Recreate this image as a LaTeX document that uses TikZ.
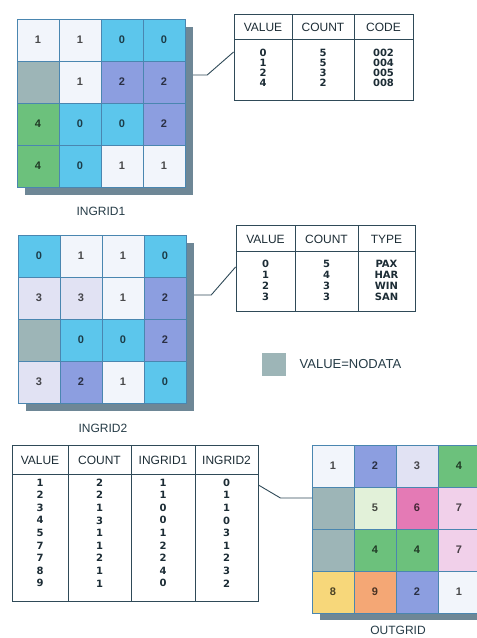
\documentclass[tikz,border=0pt]{standalone}
\usepackage{fontspec}
\setmainfont{Liberation Sans}
\newfontfamily\digitfont{DejaVu Sans}

\definecolor{cellW}{HTML}{F2F5FB}
\definecolor{cellC}{HTML}{5CC6EC}
\definecolor{cellP}{HTML}{8C9EE0}
\definecolor{cellG}{HTML}{6CC17C}
\definecolor{cellN}{HTML}{9DB5B7}
\definecolor{cellL}{HTML}{E1E2F3}
\definecolor{cellE}{HTML}{E2F1D9}
\definecolor{cellK}{HTML}{E47AB5}
\definecolor{cellQ}{HTML}{F1D0EA}
\definecolor{cellY}{HTML}{F7D77A}
\definecolor{cellO}{HTML}{F4A775}
\definecolor{shadowgray}{HTML}{6E8796}
\definecolor{gridline}{HTML}{4A86B0}
\definecolor{rule}{HTML}{2F4A58}

\tikzset{
  cell/.style={draw=gridline, line width=0.6pt, minimum width=42pt,
    minimum height=42pt, inner sep=0pt,
    font=\bfseries\fontsize{11}{11}\selectfont},
  frame/.style={draw=gridline, minimum width=168pt, minimum height=168pt,
    inner sep=0pt},
  tab/.style={draw=rule, line width=0.9pt, inner sep=0pt},
  head/.style={text=rule!60!black, font=\fontsize{12}{12}\selectfont},
  body/.style={text=rule!60!black, align=center, inner sep=0pt},
  link/.style={draw=rule, line width=0.9pt},
  caption/.style={text=rule!80!black, font=\fontsize{12}{12}\selectfont}
}

\begin{document}
\begin{tikzpicture}[x=1pt, y=-1pt]
    \useasboundingbox (0,0) rectangle (477,638);

    % INGRID1
    \fill[shadowgray] (25,27) rectangle (193,195);
    \node[frame] (ingrid1) at (101,103) {};
    \foreach \v/\c [count=\i from 0] in
      {1/W,1/W,0/C,0/C, {}/N,1/W,2/P,2/P, 4/G,0/C,0/C,2/P, 4/G,0/C,1/W,1/W}
    {
      \pgfmathtruncatemacro\r{\i/4}
      \pgfmathtruncatemacro\k{mod(\i,4)}
      \node[cell, fill=cell\c, text=cell\c!30!black] (in1-\i)
        at ({38+42*\k},{40+42*\r}) {\v};
    }
    \node[caption] (ingrid1-label) at (101,211) {INGRID1};

    % table of INGRID1
    \node[tab, minimum width=179pt, minimum height=86pt] (codetab) at (323.5,57) {};
    \draw[rule, line width=0.9pt] (234,39) -- (413,39)
      (292,14) -- (292,100) (354,14) -- (354,100);
    \node[head] (codetab-h1) at (263,27) {VALUE};
    \node[head] (codetab-h2) at (323,27) {COUNT};
    \node[head] (codetab-h3) at (383.5,27) {CODE};
    \node[body, font=\digitfont\bfseries\fontsize{10}{10}\selectfont] (codetab-v) at (263,68) {0\\1\\2\\4};
    \node[body, font=\digitfont\bfseries\fontsize{10}{10}\selectfont] (codetab-c) at (323,68) {5\\5\\3\\2};
    \node[body, font=\digitfont\bfseries\fontsize{10}{10}\selectfont] (codetab-d) at (383.5,68) {002\\004\\005\\008};

    \draw[link] ([xshift=8pt,yshift=28pt]ingrid1.east) -- ++(14,0)
      -- ([yshift=5pt]codetab.west);

    % INGRID2
    \fill[shadowgray] (26,243) rectangle (194,411);
    \node[frame] (ingrid2) at (102,319) {};
    \foreach \v/\c [count=\i from 0] in
      {0/C,1/W,1/W,0/C, 3/L,3/L,1/W,2/P, {}/N,0/C,0/C,2/P, 3/L,2/P,1/W,0/C}
    {
      \pgfmathtruncatemacro\r{\i/4}
      \pgfmathtruncatemacro\k{mod(\i,4)}
      \node[cell, fill=cell\c, text=cell\c!30!black] (in2-\i)
        at ({39+42*\k},{256+42*\r}) {\v};
    }
    \node[caption] (ingrid2-label) at (103,428) {INGRID2};

    % table of INGRID2
    \node[tab, minimum width=179pt, minimum height=86pt] (typetab) at (325.5,268) {};
    \draw[rule, line width=0.9pt] (236,251) -- (415,251)
      (295,225) -- (295,311) (358,225) -- (358,311);
    \node[head] (typetab-h1) at (265.5,239) {VALUE};
    \node[head] (typetab-h2) at (326.5,239) {COUNT};
    \node[head] (typetab-h3) at (386.5,239) {TYPE};
    \node[body, font=\digitfont\bfseries\fontsize{10}{11}\selectfont] (typetab-v) at (265.5,280) {0\\1\\2\\3};
    \node[body, font=\digitfont\bfseries\fontsize{10}{11}\selectfont] (typetab-c) at (326.5,280) {5\\4\\3\\3};
    \node[body, font=\digitfont\bfseries\fontsize{10}{11}\selectfont] (typetab-t) at (386.5,280) {PAX\\HAR\\WIN\\SAN};

    \draw[link] ([xshift=8pt,yshift=24pt]ingrid2.east) -- ++(17,0)
      -- ([yshift=1pt]typetab.west);

    % legend
    \node[fill=cellN, minimum width=24pt, minimum height=23pt, inner sep=0pt]
      (nodata) at (274,364.5) {};
    \node[caption, anchor=west, font=\fontsize{13}{13}\selectfont]
      (nodata-label) at ([xshift=10pt]nodata.east) {VALUE=NODATA};

    % combined table
    \node[tab, minimum width=246pt, minimum height=156pt] (combtab) at (135,523) {};
    \draw[rule, line width=0.9pt] (12,474) -- (258,474)
      (68,445) -- (68,601) (131,445) -- (131,601) (195,445) -- (195,601);
    \node[head] (combtab-h1) at (40,460) {VALUE};
    \node[head] (combtab-h2) at (99.5,460) {COUNT};
    \node[head] (combtab-h3) at (163,460) {INGRID1};
    \node[head] (combtab-h4) at (226.5,460) {INGRID2};
    \node[body, font=\digitfont\bfseries\fontsize{10}{12.6}\selectfont] (combtab-v) at (40,533)
      {1\\2\\3\\4\\5\\7\\7\\8\\9};
    \node[body, font=\digitfont\bfseries\fontsize{10}{12.6}\selectfont] (combtab-c) at (99.5,533)
      {2\\2\\1\\3\\1\\1\\2\\1\\1};
    \node[body, font=\digitfont\bfseries\fontsize{10}{12.6}\selectfont] (combtab-a) at (163,533)
      {1\\1\\0\\0\\1\\2\\2\\4\\0};
    \node[body, font=\digitfont\bfseries\fontsize{10}{12.6}\selectfont] (combtab-b) at (226.5,533)
      {0\\1\\1\\0\\3\\1\\2\\3\\2};

    % OUTGRID
    \fill[shadowgray] (320,453) rectangle (488,620);
    \node[frame] (outgrid) at (396,529) {};
    \foreach \v/\c [count=\i from 0] in
      {1/W,2/P,3/L,4/G, {}/N,5/E,6/K,7/Q, {}/N,4/G,4/G,7/Q, 8/Y,9/O,2/P,1/W}
    {
      \pgfmathtruncatemacro\r{\i/4}
      \pgfmathtruncatemacro\k{mod(\i,4)}
      \node[cell, fill=cell\c, text=cell\c!30!black] (out-\i)
        at ({333+42*\k},{466+42*\r}) {\v};
    }
    \node[caption] (outgrid-label) at (398,630) {OUTGRID};

    \draw[link] ([yshift=38pt]combtab.east) -- ++(22,13)
      -- ([yshift=31pt]outgrid.west);
\end{tikzpicture}
\end{document}
